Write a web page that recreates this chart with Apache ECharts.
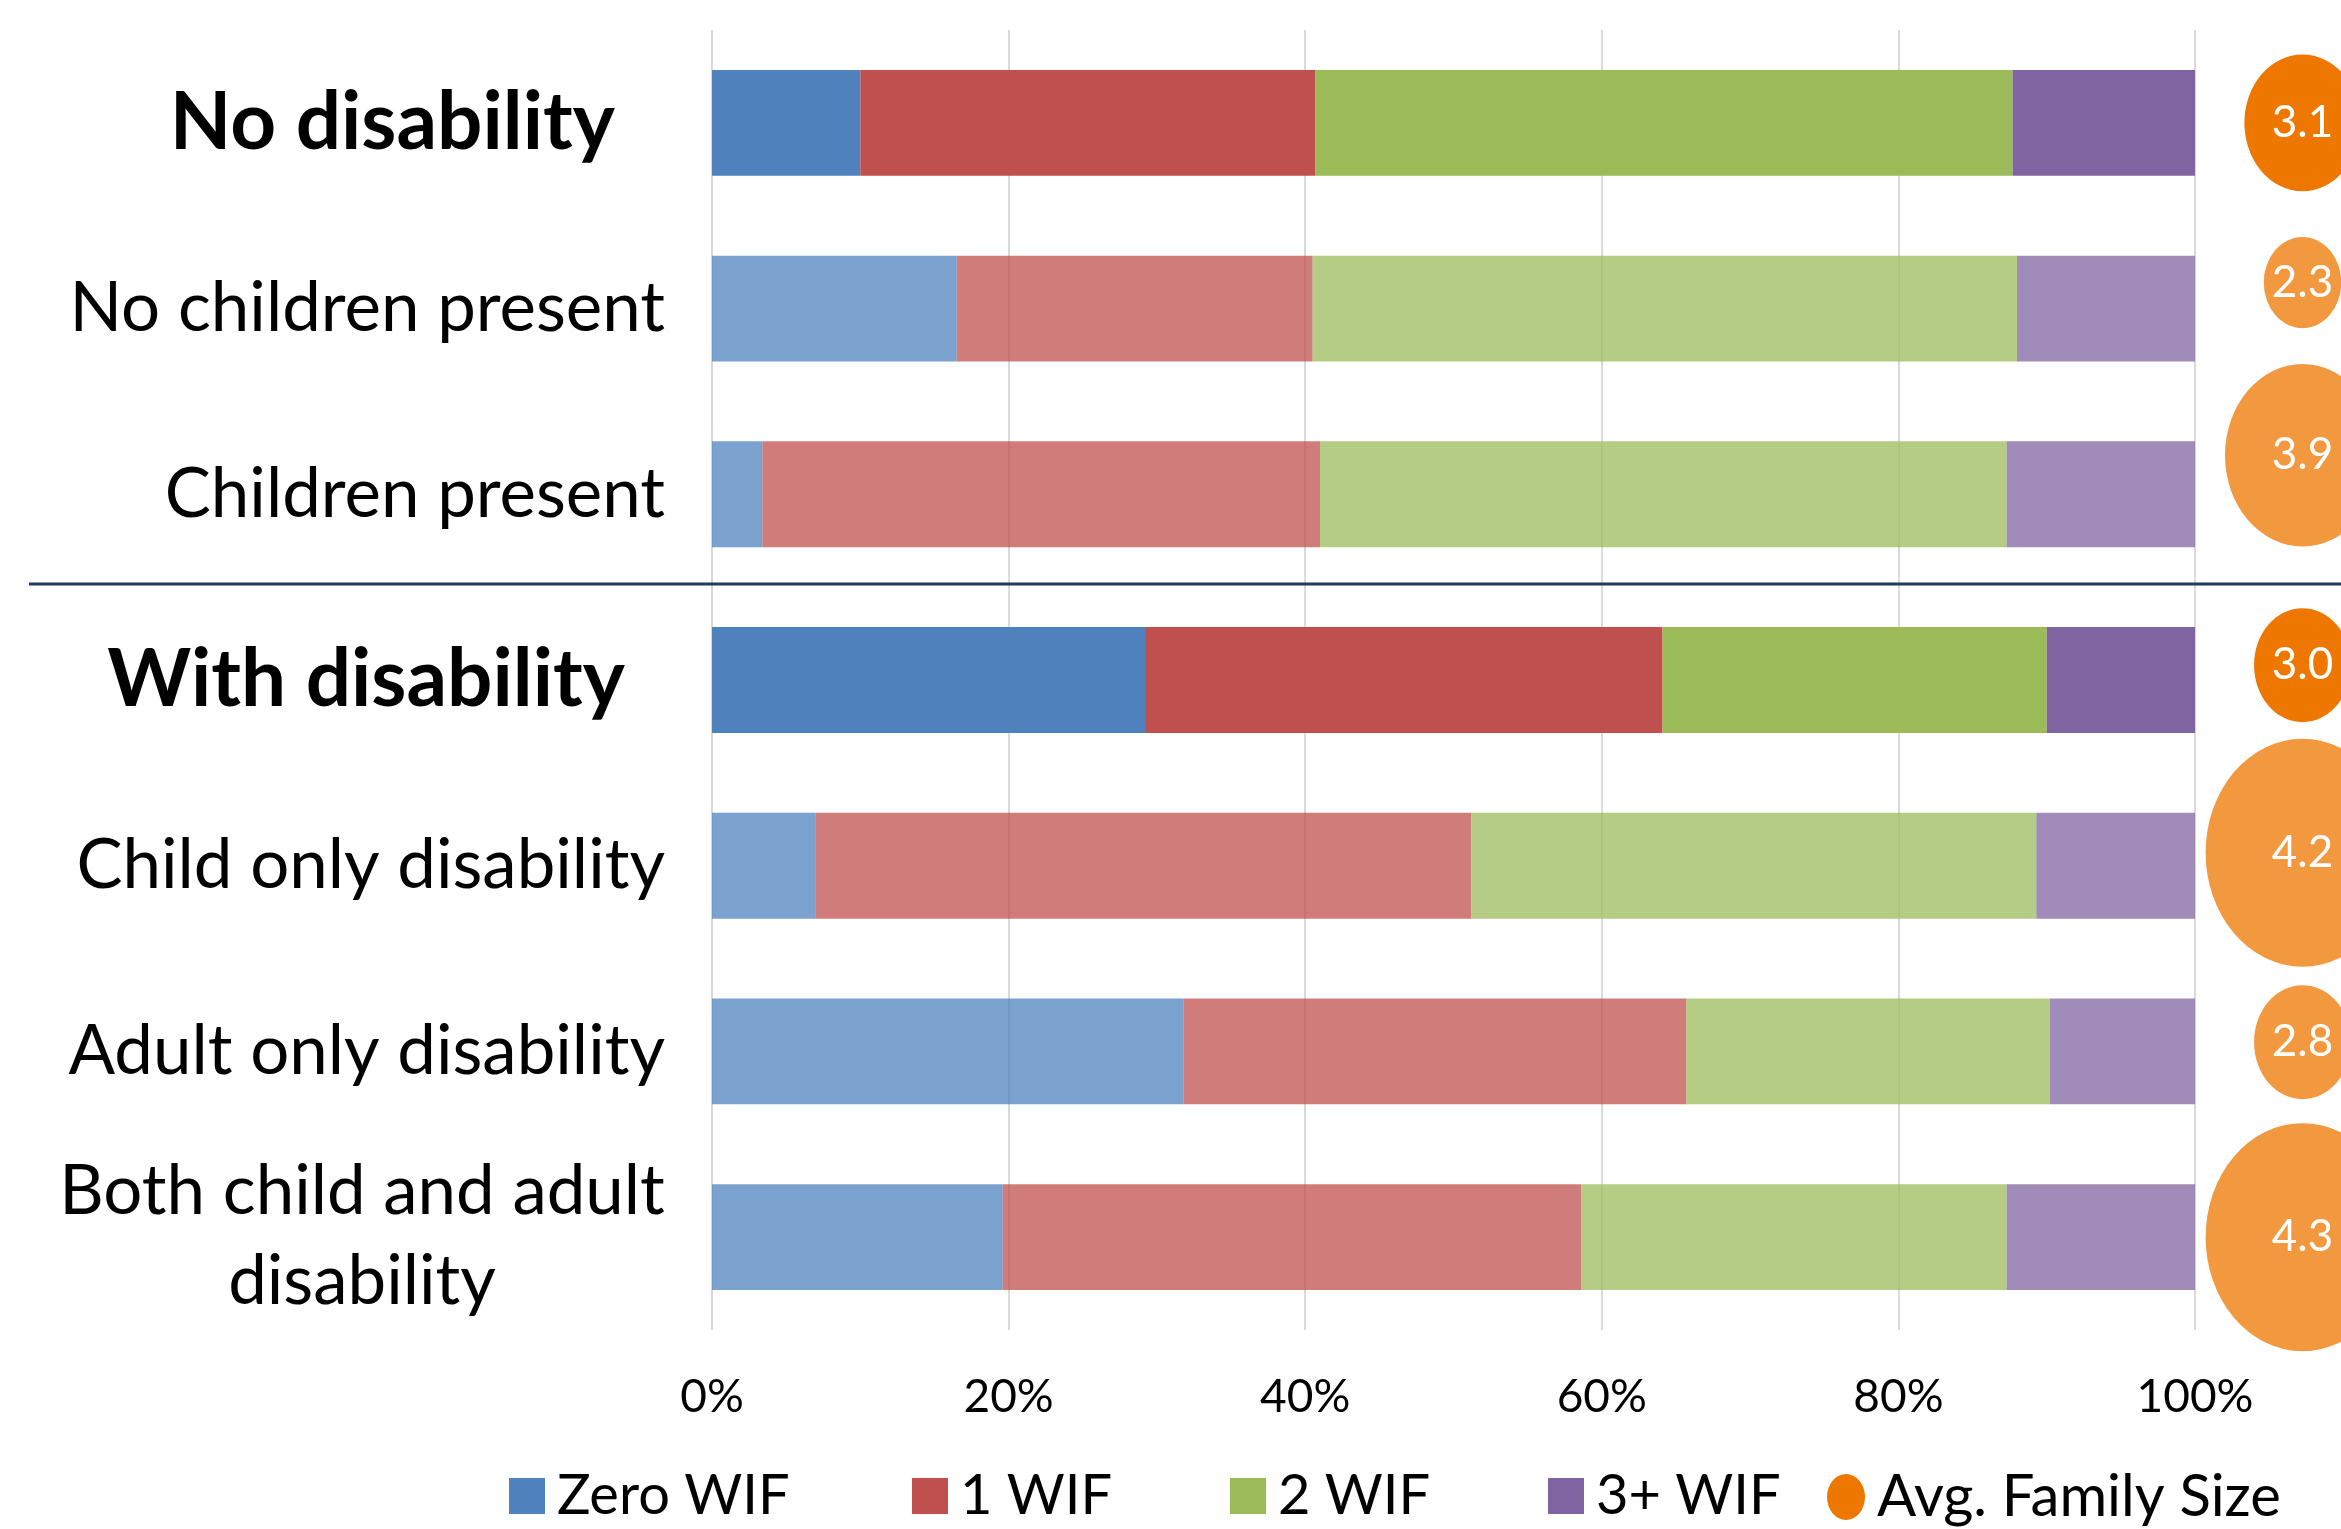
<!DOCTYPE html>
<html><head><meta charset="utf-8">
<script src="https://cdn.jsdelivr.net/npm/echarts@6/dist/echarts.min.js"></script>
<style>html,body{margin:0;padding:0;background:#fff}#c{width:2341px;height:1529px}</style>
</head><body><div id="c"></div>
<script>
// ---- data ----
const categories = ['No disability','No children present','Children present','With disability','Child only disability','Adult only disability','Both child and adult\ndisability'];
const headerRows = ['No disability','With disability'];
const zeroWIF  = [10.0, 16.5,  3.4, 29.2,  7.0, 31.8, 19.6];
const oneWIF   = [30.7, 24.0, 37.6, 34.9, 44.2, 33.9, 39.0];
const twoWIF   = [47.0, 47.5, 46.3, 25.9, 38.1, 24.5, 28.7];
const threeWIF = [12.3, 12.0, 12.7, 10.0, 10.7,  9.8, 12.7];
const avgFamilySize = [3.1, 2.3, 3.9, 3.0, 4.2, 2.8, 4.3];
// bubble-chart columns of the "Avg. Family Size" series (y value and bubble size)
const bubbleY    = [6.50, 5.64, 4.71, 3.58, 2.57, 1.55, 0.50];
const bubbleSize = [36, 16, 64, 25, 100, 25, 100];
const xTicks = [0, 20, 40, 60, 80, 100];
const seriesNames = ['Zero WIF','1 WIF','2 WIF','3+ WIF','Avg. Family Size'];

// ---- styles ----
const FONT = 'Lato';
const baseColors = ['#4F81BD','#C0504D','#9BBB59','#8064A2','#EE7700'];
function rgba(hex, a){const n=parseInt(hex.slice(1),16);return 'rgba('+(n>>16&255)+','+(n>>8&255)+','+(n&255)+','+a+')';}
const isHeader = c => headerRows.indexOf(c) >= 0;
const ELLIPSE = 'path://M0,50A50,50,0,1,1,100,50A50,50,0,1,1,0,50Z';

const chart = echarts.init(document.getElementById('c'), null, {renderer:'canvas'});
const barVals = [zeroWIF, oneWIF, twoWIF, threeWIF];

const barSeries = barVals.map((vals, si) => ({
  name: seriesNames[si], type: 'bar', stack: 'wif', xAxisIndex: 0, yAxisIndex: 0,
  barWidth: '57%', itemStyle: {color: baseColors[si]},
  data: vals.map((v, i) => ({value: v, itemStyle: {color: isHeader(categories[i]) ? baseColors[si] : rgba(baseColors[si], 0.75)}}))
}));

// bubble area proportional to size; bubbles drawn as upright ellipses
const BUBBLE_SCALE = 22.8;
const bubbleSeries = {
  name: seriesNames[4], type: 'scatter', xAxisIndex: 1, yAxisIndex: 1,
  symbol: ELLIPSE, symbolKeepAspect: false,
  symbolSize: val => { const h = BUBBLE_SCALE * Math.sqrt(val[2]); return [0.85 * h, h]; },
  itemStyle: {color: baseColors[4], opacity: 1},
  label: {show: true, position: 'inside', color: '#fff', fontFamily: FONT, fontSize: 44, formatter: p => p.value[3].toFixed(1)},
  data: avgFamilySize.map((v, i) => ({value: [0, bubbleY[i], bubbleSize[i], v], itemStyle: {opacity: 1, color: isHeader(categories[i]) ? baseColors[4] : rgba(baseColors[4], 0.75)}}))
};

const legendLefts = [504, 907, 1225, 1543, 1822];
const legends = seriesNames.map((n, i) => ({
  data: [{name: n, icon: i < 4 ? 'rect' : ELLIPSE, itemStyle: {color: baseColors[i], opacity: 1}}],
  left: legendLefts[i], top: 1463, orient: 'horizontal', selectedMode: false,
  symbolKeepAspect: false,
  itemWidth: i < 4 ? 36 : 38, itemHeight: i < 4 ? 36 : 46,
  textStyle: {fontFamily: FONT, fontSize: i < 4 ? 56 : 58, color: '#000', padding: [0, 0, 0, 7]}
}));

const option = {
  backgroundColor: '#fff',
  animation: false,
  textStyle: {fontFamily: FONT},
  legend: legends,
  grid: [
    {left: 712, right: 146, top: 30, height: 1300, containLabel: false},
    {left: 2264, width: 100, top: 30, height: 1300, containLabel: false}
  ],
  xAxis: [
    {type: 'value', gridIndex: 0, min: xTicks[0], max: xTicks[xTicks.length-1], interval: xTicks[1]-xTicks[0],
     axisLine: {show: false}, axisTick: {show: false},
     splitLine: {show: true, lineStyle: {color: '#D9D9D9', width: 2}},
     axisLabel: {formatter: '{value}%', fontFamily: FONT, fontSize: 46, color: '#000', margin: 44}},
    {type: 'value', gridIndex: 1, min: -1, max: 1, show: false}
  ],
  yAxis: [
    {type: 'category', gridIndex: 0, data: categories, inverse: true,
     axisLine: {show: false}, axisTick: {show: false}, splitLine: {show: false},
     axisLabel: {
       margin: 47, fontFamily: FONT, fontSize: 69, color: '#000',
       formatter: v => {
         if (v === headerRows[0]) return '{h1|' + v + '}';
         if (v === headerRows[1]) return '{h2|' + v + '}';
         if (v.indexOf('\n') >= 0) return v.split('\n').map(s => '{c|' + s + '}').join('\n');
         return '{n|' + v + '}';
       },
       rich: {
         n: {fontFamily: FONT, fontSize: 69, color: '#000'},
         h1: {fontFamily: FONT, fontSize: 80, fontWeight: 'bold', color: '#000', padding: [0, 50, 0, 0]},
         h2: {fontFamily: FONT, fontSize: 80, fontWeight: 'bold', color: '#000', padding: [0, 40, 0, 0]},
         c: {fontFamily: FONT, fontSize: 69, color: '#000', width: 606, align: 'center', lineHeight: 90}
       }
     }},
    {type: 'value', gridIndex: 1, min: 0, max: 7, show: false}
  ],
  series: barSeries.concat([bubbleSeries])
};
chart.setOption(option);

// separator line between the two groups (just above the category boundary)
const yA = chart.convertToPixel({yAxisIndex: 0}, categories[2]);
const yB = chart.convertToPixel({yAxisIndex: 0}, categories[3]);
const ySep = Math.round((yA + yB) / 2) - 3;
chart.setOption({graphic: [{type: 'line', z: 10, shape: {x1: 29, y1: ySep, x2: 2341, y2: ySep}, style: {stroke: '#1F3A5F', lineWidth: 3}}]});
</script></body></html>
